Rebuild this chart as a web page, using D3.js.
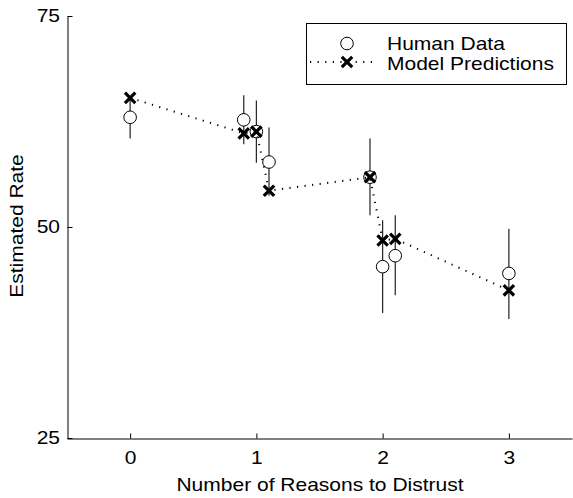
<!DOCTYPE html>
<html><head><meta charset="utf-8">
<script src="https://cdn.jsdelivr.net/npm/d3@7"></script>
<style>body{margin:0;background:#fff}text{font-family:"Liberation Sans",Arial,sans-serif;fill:#000}</style>
</head><body>
<script>
const xs = [0, 0.9, 1.0, 1.1, 1.9, 2.0, 2.1, 3.0];
const human = [63.0, 62.7, 61.3, 57.7, 55.9, 45.3, 46.6, 44.5];
const humanLow = [60.5, 59.8, 57.6, 53.7, 51.4, 39.8, 41.9, 39.1];
const humanHigh = [65.5, 65.6, 65.0, 61.8, 60.5, 50.8, 51.4, 49.8];
const model = [65.3, 61.1, 61.3, 54.3, 55.9, 48.4, 48.6, 42.5];
const xTicks = [0, 1, 2, 3];
const yTicks = [25, 50, 75];

const W = 573, H = 498;
const fs = 18.6;
const sx = 1.13;
const svg = d3.select("body").append("svg").attr("width", W).attr("height", H);
const x = d3.scaleLinear().domain([-0.5, 3.5]).range([67, 572]);
const y = d3.scaleLinear().domain([25, 75]).range([438, 16]);

// axes
const xAxis = d3.axisBottom(x).tickValues(xTicks).tickSizeInner(-5).tickSizeOuter(0).tickPadding(12).tickFormat(d3.format("d"));
const gx = svg.append("g").attr("transform", "translate(0,438.5)").call(xAxis);
gx.select(".domain").attr("stroke", "#000");
gx.selectAll("text").attr("font-size", fs).attr("font-family", '"Liberation Sans",Arial,sans-serif')
  .attr("transform", `scale(${sx},1)`);
const yAxis = d3.axisLeft(y).tickValues(yTicks).tickSizeInner(-5).tickSizeOuter(0).tickPadding(12).tickFormat(d3.format("d"));
const gy = svg.append("g").attr("transform", "translate(67.5,0)").call(yAxis);
gy.select(".domain").attr("stroke", "#000");
gy.selectAll("text").attr("font-size", fs).attr("font-family", '"Liberation Sans",Arial,sans-serif')
  .attr("x", -7.5 / sx).attr("transform", `scale(${sx},1)`);

const label = (g, tx, ty, rot, anchor, str) =>
  g.append("text").attr("transform", `translate(${tx},${ty}) rotate(${rot}) scale(${sx},1)`)
    .attr("text-anchor", anchor).attr("font-size", fs).text(str);

label(svg, 320, 491, 0, "middle", "Number of Reasons to Distrust");
label(svg, 23, 226, -90, "middle", "Estimated Rate");

// error bars
svg.append("g").selectAll("line").data(xs).join("line")
  .attr("x1", (d) => x(d)).attr("x2", (d) => x(d))
  .attr("y1", (d, i) => y(humanLow[i])).attr("y2", (d, i) => y(humanHigh[i]))
  .attr("stroke", "#222").attr("stroke-width", 1.2);

// circles
svg.append("g").selectAll("circle").data(xs).join("circle")
  .attr("cx", (d) => x(d)).attr("cy", (d, i) => y(human[i])).attr("r", 6.3)
  .attr("fill", "#fff").attr("stroke", "#000").attr("stroke-width", 1);

// model line
const line = d3.line().x((d) => x(d[0])).y((d) => y(d[1]));
svg.append("path").datum(xs.map((d, i) => [d, model[i]])).attr("d", line)
  .attr("fill", "none").attr("stroke", "#000").attr("stroke-width", 2).attr("stroke-dasharray", "1.2,6.4");

// x markers
const cross = (g, cx, cy, s) => {
  g.append("path").attr("d", `M${cx - s},${cy - s}L${cx + s},${cy + s}M${cx - s},${cy + s}L${cx + s},${cy - s}`)
    .attr("stroke", "#000").attr("stroke-width", 3.2).attr("fill", "none");
};
const gm = svg.append("g");
xs.forEach((d, i) => cross(gm, x(d), y(model[i]), 5.2));

// legend
const lg = svg.append("g");
lg.append("rect").attr("x", 306.5).attr("y", 23.5).attr("width", 260).attr("height", 61)
  .attr("fill", "#fff").attr("stroke", "#000").attr("stroke-width", 1);
lg.append("circle").attr("cx", 347).attr("cy", 43.5).attr("r", 6.3).attr("fill", "#fff").attr("stroke", "#000");
lg.append("line").attr("x1", 310).attr("x2", 376).attr("y1", 62).attr("y2", 62)
  .attr("stroke", "#000").attr("stroke-width", 2).attr("stroke-dasharray", "1.2,6.4");
cross(lg, 347, 62, 5.2);
label(lg, 387, 50, 0, "start", "Human Data");
label(lg, 387, 70, 0, "start", "Model Predictions");
</script>
</body></html>
